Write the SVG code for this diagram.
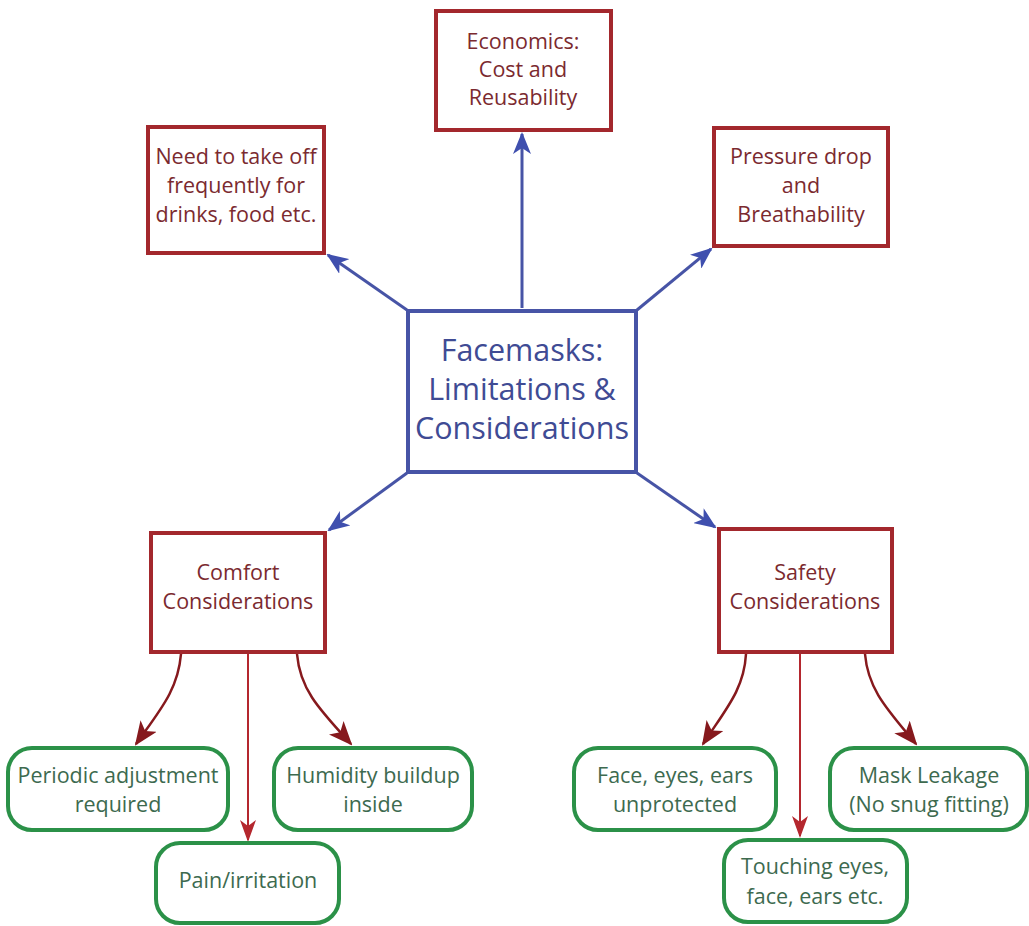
<svg xmlns="http://www.w3.org/2000/svg" width="1029" height="926" viewBox="0 0 1029 926">
<style>
.rbox{fill:#fff;stroke:#a3282d;stroke-width:4}
.bbox{fill:#fff;stroke:#4754a6;stroke-width:4}
.gbox{fill:#fff;stroke:#2b9148;stroke-width:4}
text{font-family:"Open Sans","Noto Sans",sans-serif;text-anchor:middle}
.rt{fill:#7b2a2f;font-size:21.5px}
.bt{fill:#3f4b94;font-size:30.5px}
.gt{fill:#3d6a4f;font-size:21.5px}
.bl{fill:none;stroke:#4754a6;stroke-width:3}
.dr{fill:none;stroke:#86191d;stroke-width:2.5}
.br{fill:none;stroke:#b4272e;stroke-width:2}
</style>
<defs>
<marker id="ab" markerWidth="22" markerHeight="18" refX="20" refY="9" orient="auto" markerUnits="userSpaceOnUse">
<path d="M0,0 L22,9 L0,18 L6,9 z" fill="#3f4fae"/>
</marker>
<marker id="ad" markerWidth="24" markerHeight="20" refX="22" refY="10" orient="auto" markerUnits="userSpaceOnUse">
<path d="M0,0 L24,10 L0,20 L6,10 z" fill="#86191d"/>
</marker>
<marker id="ar" markerWidth="22" markerHeight="16" refX="20" refY="8" orient="auto" markerUnits="userSpaceOnUse">
<path d="M0,0 L22,8 L0,16 L6,8 z" fill="#b4272e"/>
</marker>
</defs>
<rect width="1029" height="926" fill="#fff"/>
<g id="connectors">
<line class="bl" x1="522" y1="308" x2="522" y2="134" marker-end="url(#ab)"/>
<line class="bl" x1="407" y1="310" x2="328" y2="255" marker-end="url(#ab)"/>
<line class="bl" x1="637" y1="310" x2="711" y2="249" marker-end="url(#ab)"/>
<line class="bl" x1="407" y1="473" x2="329" y2="530" marker-end="url(#ab)"/>
<line class="bl" x1="637" y1="473" x2="715" y2="527" marker-end="url(#ab)"/>
<path class="dr" d="M181,654 C178,690 160,710 136,744" marker-end="url(#ad)"/>
<line class="br" x1="248" y1="654" x2="248" y2="840" marker-end="url(#ar)"/>
<path class="dr" d="M297,654 C300,690 320,710 351,744" marker-end="url(#ad)"/>
<path class="dr" d="M746,654 C744,690 725,710 703,744" marker-end="url(#ad)"/>
<line class="br" x1="800" y1="654" x2="800" y2="836" marker-end="url(#ar)"/>
<path class="dr" d="M865,654 C868,690 888,710 916,744" marker-end="url(#ad)"/>
</g>
<g id="n-economics">
<rect class="rbox" x="436" y="11" width="175" height="119"/>
<text class="rt" x="523" y="49">Economics:</text>
<text class="rt" x="523" y="77">Cost and</text>
<text class="rt" x="523" y="105">Reusability</text>
</g>
<g id="n-takeoff">
<rect class="rbox" x="148" y="127" width="176" height="126"/>
<text class="rt" x="236" y="164">Need to take off</text>
<text class="rt" x="236" y="193">frequently for</text>
<text class="rt" x="236" y="222">drinks, food etc.</text>
</g>
<g id="n-pressure">
<rect class="rbox" x="714" y="128" width="174" height="118"/>
<text class="rt" x="801" y="164">Pressure drop</text>
<text class="rt" x="801" y="193">and</text>
<text class="rt" x="801" y="222">Breathability</text>
</g>
<g id="n-center">
<rect class="bbox" x="408" y="311" width="228" height="161"/>
<text class="bt" x="522" y="361">Facemasks:</text>
<text class="bt" x="522" y="400">Limitations &amp;</text>
<text class="bt" x="522" y="439">Considerations</text>
</g>
<g id="n-comfort">
<rect class="rbox" x="151" y="533" width="174" height="119"/>
<text class="rt" x="238" y="580">Comfort</text>
<text class="rt" x="238" y="609">Considerations</text>
</g>
<g id="n-safety">
<rect class="rbox" x="719" y="529" width="173" height="123"/>
<text class="rt" x="805" y="580">Safety</text>
<text class="rt" x="805" y="609">Considerations</text>
</g>
<g id="n-periodic">
<rect class="gbox" x="8" y="748" width="220" height="82" rx="24"/>
<text class="gt" x="118" y="783">Periodic adjustment</text>
<text class="gt" x="118" y="812">required</text>
</g>
<g id="n-humidity">
<rect class="gbox" x="274" y="748" width="198" height="82" rx="24"/>
<text class="gt" x="373" y="783">Humidity buildup</text>
<text class="gt" x="373" y="812">inside</text>
</g>
<g id="n-pain">
<rect class="gbox" x="156" y="843" width="183" height="80" rx="24"/>
<text class="gt" x="248" y="888">Pain/irritation</text>
</g>
<g id="n-face">
<rect class="gbox" x="574" y="748" width="202" height="82" rx="24"/>
<text class="gt" x="675" y="783">Face, eyes, ears</text>
<text class="gt" x="675" y="812">unprotected</text>
</g>
<g id="n-leakage">
<rect class="gbox" x="830" y="748" width="197" height="82" rx="24"/>
<text class="gt" x="929" y="783">Mask Leakage</text>
<text class="gt" x="929" y="812">(No snug fitting)</text>
</g>
<g id="n-touching">
<rect class="gbox" x="724" y="840" width="183" height="82" rx="24"/>
<text class="gt" x="815" y="874">Touching eyes,</text>
<text class="gt" x="815" y="904">face, ears etc.</text>
</g>
</svg>
